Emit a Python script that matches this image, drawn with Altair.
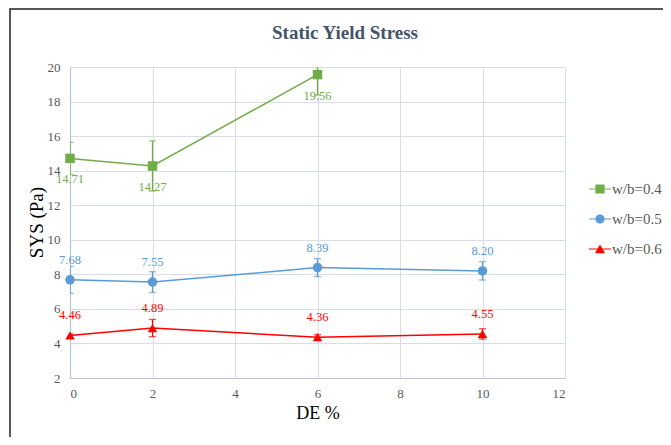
import altair as alt
import pandas as pd

# ---------------- data ----------------
chart_title = "Static Yield Stress"
series_names = ["w/b=0.4", "w/b=0.5", "w/b=0.6"]
series_colors = ["#70AD47", "#5B9BD5", "#FF0000"]
series_shapes = ["square", "circle", "triangle-up"]

de_04 = [0, 2, 6]
sys_04 = [14.71, 14.27, 19.56]
err_04 = [0.93, 1.45, 1.18]

de_05 = [0, 2, 6, 10]
sys_05 = [7.68, 7.55, 8.39, 8.20]
err_05 = [0.78, 0.60, 0.52, 0.53]

de_06 = [0, 2, 6, 10]
sys_06 = [4.46, 4.89, 4.36, 4.55]
err_06 = [0.10, 0.50, 0.15, 0.30]

x_ticks = [0, 2, 4, 6, 8, 10, 12]
y_ticks = [2, 4, 6, 8, 10, 12, 14, 16, 18, 20]

rows = []
for name, xs, ys, es in [
    (series_names[0], de_04, sys_04, err_04),
    (series_names[1], de_05, sys_05, err_05),
    (series_names[2], de_06, sys_06, err_06),
]:
    for x, y, e in zip(xs, ys, es):
        rows.append({"series": name, "de": x, "sys": y, "lo": y - e, "hi": y + e})
df = pd.DataFrame(rows)

# ---------------- styles ----------------
FONT = "Liberation Serif"
AXIS_COLOR = "#B8C4D6"
GRID_COLOR = "#D9DEE6"
LABEL_COLOR = "#595959"

x_scale = alt.Scale(domain=[0, 12], nice=False)
y_scale = alt.Scale(domain=[2, 20], nice=False)
color_scale = alt.Scale(domain=series_names, range=series_colors)

x_axis = alt.Axis(values=x_ticks, title="DE %", grid=True, ticks=False,
                  labelPadding=9, titlePadding=4, labelOverlap=False)
y_axis = alt.Axis(values=y_ticks, title="SYS (Pa)", grid=True, ticks=False,
                  labelPadding=10, labelOverlap=False,
                  titleX=-24, titleY=155, titleFontSize=19)


def xq(field="de"):
    return alt.X(f"{field}:Q", scale=x_scale, axis=x_axis)


def yq(field):
    return alt.Y(f"{field}:Q", scale=y_scale, axis=y_axis)


col = alt.Color("series:N", scale=color_scale, legend=None)

base = alt.Chart(df)

lines = base.mark_line(strokeWidth=1.5).encode(
    x=xq(), y=yq("sys"), color=col, detail="series:N",
)

err_rule = base.mark_rule(strokeWidth=1.3, clip=True).encode(
    x=xq(), y=yq("lo"), y2="hi:Q", color=col,
)
cap_lo = base.mark_tick(orient="horizontal", size=7, thickness=1.3, clip=True).encode(
    x=xq(), y=yq("lo"), color=col,
)
cap_hi = base.mark_tick(orient="horizontal", size=7, thickness=1.3, clip=True).encode(
    x=xq(), y=yq("hi"), color=col,
)

points = base.mark_point(filled=True, size=90, opacity=1).encode(
    x=xq(), y=yq("sys"), color=col,
    shape=alt.Shape("series:N", scale=alt.Scale(domain=series_names, range=series_shapes), legend=None),
)

text_below = base.transform_filter(alt.datum.series == series_names[0]).mark_text(
    dy=21, font=FONT, fontSize=12.5
).encode(
    x=xq(), y=yq("sys"), text=alt.Text("sys:Q", format=".2f"), color=col,
)
text_above = base.transform_filter(alt.datum.series != series_names[0]).mark_text(
    dy=-20, font=FONT, fontSize=12.5
).encode(
    x=xq(), y=yq("sys"), text=alt.Text("sys:Q", format=".2f"), color=col,
)

# legend symbols: a short line with the marker in its middle
legend_paths = [
    "M-1,-0.055H1V0.055H-1Z M-0.42,-0.42H0.42V0.42H-0.42Z",
    "M-1,-0.055H1V0.055H-1Z M-0.42,0A0.42,0.42,0,1,1,0.42,0A0.42,0.42,0,1,1,-0.42,0Z",
    "M-1,-0.055H1V0.055H-1Z M0,-0.42L0.46,0.38H-0.46Z",
]
leg = dict(orient="none", legendX=519, legendY=111, title=None,
           labelFont=FONT, labelFontSize=15, labelColor=LABEL_COLOR,
           symbolSize=484, labelOffset=1, rowPadding=11, symbolStrokeWidth=0)
legend_layer = base.transform_filter("false").mark_point(filled=True, opacity=1).encode(
    x=xq(), y=yq("sys"),
    color=alt.Color("series:N", scale=color_scale, legend=alt.Legend(**leg)),
    shape=alt.Shape("series:N", scale=alt.Scale(domain=series_names, range=legend_paths),
                    legend=alt.Legend(**leg)),
)

one = alt.Data(values=[{"t": chart_title}])
frame = alt.Chart(one).mark_rect(
    fill="transparent", stroke="#222222", strokeWidth=1.5
).encode(
    x=alt.value(-60), x2=alt.value(660), y=alt.value(-58), y2=alt.value(420)
)
title_mark = alt.Chart(one).mark_text(
    font=FONT, fontSize=19, fontWeight="bold", color="#44546A",
    align="center", baseline="alphabetic"
).encode(
    x=alt.value(275), y=alt.value(-28), text="t:N"
)

chart = alt.layer(
    lines, frame, title_mark, err_rule, cap_lo, cap_hi, points, text_below, text_above, legend_layer
).resolve_scale(
    color="independent", shape="independent"
).properties(
    width=495, height=311,
    autosize=alt.AutoSizeParams(type="none"),
    padding={"left": 62, "top": 59, "right": 98, "bottom": 59},
).configure_view(
    stroke=None
).configure_axis(
    labelFont=FONT, labelFontSize=13, labelColor=LABEL_COLOR,
    titleFont=FONT, titleFontSize=18, titleColor="#000000", titleFontWeight="normal",
    domainColor=AXIS_COLOR, domainWidth=1.2, gridColor=GRID_COLOR, gridWidth=1,
)

chart.save("out.html", embed_options={"renderer": "svg", "actions": False})
